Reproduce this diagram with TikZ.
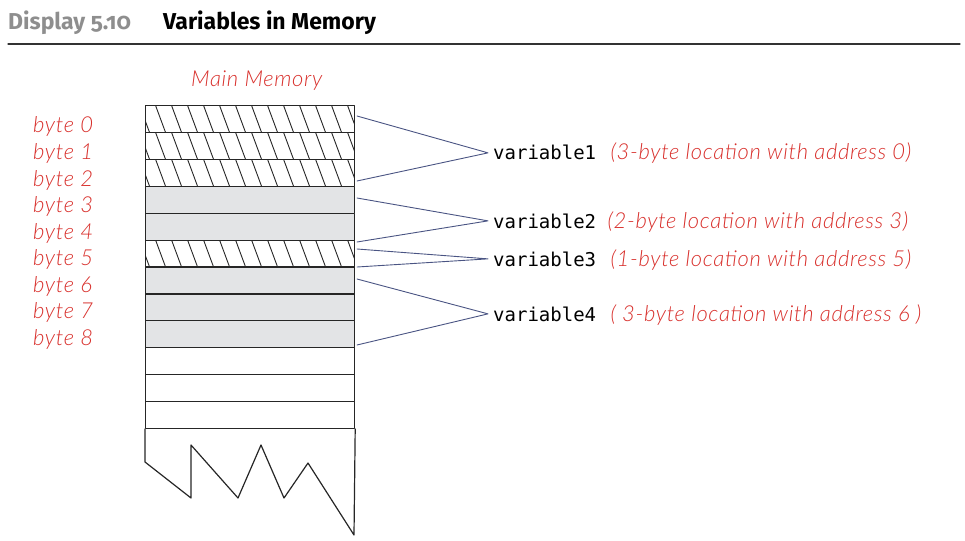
\documentclass[tikz,border=0pt]{standalone}
\usepackage{fontspec}
\setmainfont{Lato}
\newfontfamily\headfont[Numbers=OldStyle]{Fira Sans}
\newfontfamily\notefont[LetterSpace=3, UprightFont={* Light}, ItalicFont={* Light Italic}]{Lato}
\setmonofont{DejaVu Sans Mono}
\usetikzlibrary{positioning,calc}
\definecolor{notered}{HTML}{D8302C}
\definecolor{linkblue}{HTML}{4A5483}
\definecolor{cellgray}{HTML}{E3E4E6}
\definecolor{headgray}{HTML}{8E8E8E}
\tikzset{
  every picture/.style={line join=round, line cap=round},
  note/.style={font=\fontsize{22}{26}\selectfont\notefont\itshape, text=notered, inner sep=0pt, anchor=base west},
  var/.style={font=\fontsize{19}{23}\selectfont\ttfamily, inner xsep=5pt, inner ysep=0pt, anchor=base west},
  head/.style={font=\fontsize{23}{27}\selectfont\headfont\bfseries, inner sep=0pt, anchor=base west},
  link/.style={linkblue, line width=0.9pt},
  cell/.style={draw=black!85, line width=1.2pt, minimum width=209pt, minimum height=26.9pt, inner sep=0pt, anchor=north west},
  full/.style={cell, fill=cellgray},
  hatched/.style={cell, path picture={
    \foreach \k in {-1,...,13}
      \draw[line width=0.9pt] ($(path picture bounding box.north west)+(\k*16+10,0)$) -- ++(10,27);}},
}
\begin{document}
\begin{tikzpicture}[x=1pt,y=-1pt]
\useasboundingbox (0,0) rectangle (965,540);
\node[head, text=headgray] (disp) at (8,30) {Display 5.10};
\node[head] (title) at (163,30) {Variables in Memory};
\draw[line width=1.2pt, black!80] (8,44) -- (960,44);
\node[note] (mm) at (191,87) {Main Memory};
\foreach \i/\s in {0/hatched,1/hatched,2/hatched,3/full,4/full,5/hatched,6/full,7/full,8/full,9/cell,10/cell,11/cell}
  \node[\s] (r\i) at (145,105+26.9*\i) {};
\draw[line width=1.2pt, black!85] (r11.south west) -- (145,462) -- (191,498) -- (191,445) -- (238,498) -- (261,445) -- (284,498) -- (308,463) -- (354,535) -- (r11.south east);
\foreach \i in {0,...,8}
  \node[note] (b\i) at (33,133+26.5*\i) {byte \i};
\node[var] (v1) at (488,160) {variable1};
\node[var] (v2) at (488,228) {variable2};
\node[var] (v3) at (488,266) {variable3};
\node[var] (v4) at (488,321) {variable4};
\node[note] (n1) at ($(v1.base east)+(9,0)$) {(3-byte location with address 0)};
\node[note] (n2) at ($(v2.base east)+(6,0)$) {(2-byte location with address 3)};
\node[note] (n3) at ($(v3.base east)+(9,0)$) {(1-byte location with address 5)};
\node[note] (n4) at ($(v4.base east)+(9,0)$) {( 3-byte location with address 6 )};
\coordinate (a1) at (357,116);
\coordinate (a2) at (357,181);
\coordinate (a3) at (357,198);
\coordinate (a4) at (357,242);
\coordinate (a5) at (357,249);
\coordinate (a6) at (357,267);
\coordinate (a7) at (357,279);
\coordinate (a8) at (357,345);
\draw[link] (a1) -- (v1.west) -- (a2);
\draw[link] (a3) -- (v2.west) -- (a4);
\draw[link] (a5) -- (v3.west) -- (a6);
\draw[link] (a7) -- (v4.west) -- (a8);
\end{tikzpicture}
\end{document}
